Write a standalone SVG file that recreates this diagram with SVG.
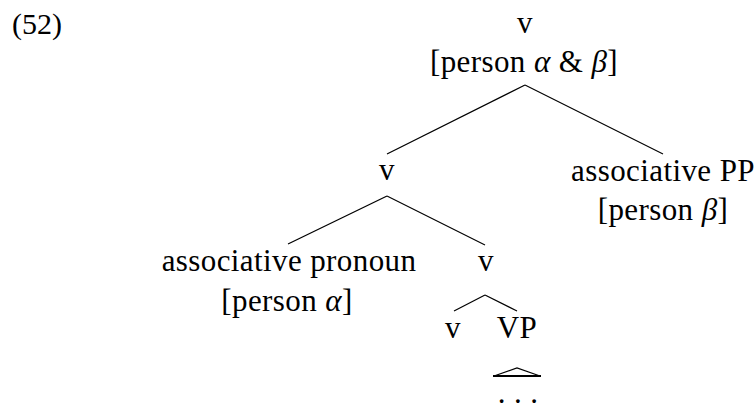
<svg xmlns="http://www.w3.org/2000/svg" width="756" height="409" viewBox="0 0 756 409">
  <style>
    text { font-family: "Liberation Serif", "Times New Roman", serif; font-size: 31px; letter-spacing: 0.4px; fill: #000; text-anchor: middle; }
    .num { font-size: 30px; letter-spacing: 0; }
    .gk { font-style: italic; }
    .edge { stroke: #000; stroke-width: 1.2; fill: none; }
    .base { stroke: #000; stroke-width: 2; fill: none; }
  </style>
  <rect width="756" height="409" fill="#fff"/>
  <text class="num" x="37" y="34">(52)</text>

  <g id="connectors">
    <line class="edge" x1="525" y1="85" x2="387" y2="154"/>
    <line class="edge" x1="525" y1="85" x2="663" y2="154"/>
    <line class="edge" x1="387" y1="196" x2="288" y2="244"/>
    <line class="edge" x1="387" y1="196" x2="485" y2="245"/>
    <line class="edge" x1="485" y1="295" x2="454" y2="311"/>
    <line class="edge" x1="485" y1="295" x2="517" y2="311"/>
    <polyline class="edge" points="494,376 517,368 540,376"/>
    <line class="base" x1="493" y1="376" x2="541" y2="376"/>
  </g>

  <g id="v-root">
    <text x="525" y="33">v</text>
    <text x="524" y="72">[person <tspan class="gk">α</tspan> &amp; <tspan class="gk">β</tspan>]</text>
  </g>
  <g id="v-mid">
    <text x="387" y="180">v</text>
  </g>
  <g id="assoc-pp">
    <text x="663" y="181">associative PP</text>
    <text x="663" y="220">[person <tspan class="gk">β</tspan>]</text>
  </g>
  <g id="assoc-pronoun">
    <text x="289" y="271">associative pronoun</text>
    <text x="287" y="311">[person <tspan class="gk">α</tspan>]</text>
  </g>
  <g id="v-low">
    <text x="486" y="271">v</text>
  </g>
  <g id="v-head">
    <text x="453" y="338">v</text>
  </g>
  <g id="vp">
    <text x="517" y="338">VP</text>
  </g>
  <g id="vp-content">
    <text x="518" y="403">. . .</text>
  </g>
</svg>
